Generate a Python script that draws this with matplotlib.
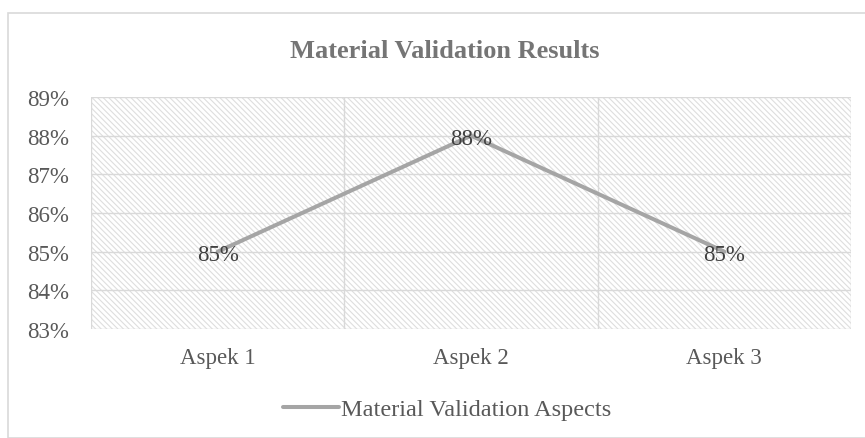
import matplotlib
matplotlib.use("Agg")
import matplotlib.pyplot as plt
from matplotlib.patches import Rectangle
from matplotlib.ticker import FuncFormatter

# dados do gráfico
aspectos = ["Aspek 1", "Aspek 2", "Aspek 3"]
valores = [85, 88, 85]
serie_nome = "Material Validation Aspects"
titulo = "Material Validation Results"

plt.rcParams['font.family'] = ['Liberation Serif', 'DejaVu Serif']
plt.rcParams['hatch.color'] = '#dedede'
plt.rcParams['hatch.linewidth'] = 0.8

W, H = 865, 439
fig = plt.figure(figsize=(W / 100, H / 100), dpi=100)

# borda externa do gráfico
fig.patches.append(Rectangle((8 / W, 0), 1, (H - 14) / H, transform=fig.transFigure,
                             fill=False, edgecolor='#d9d9d9', linewidth=1.2))

ax = fig.add_axes([91 / W, (H - 330) / H, 760 / W, 232 / H])
ax.set_facecolor('white')

# fundo hachurado
ax.add_patch(Rectangle((0, 0), 1, 1, transform=ax.transAxes, facecolor='white',
                       edgecolor='#dedede', hatch='\\\\\\\\\\\\', linewidth=0, zorder=0))

x = range(len(aspectos))
ax.set_xlim(-0.5, len(aspectos) - 0.5)
ax.set_ylim(83, 89)
ax.set_yticks(range(83, 90))
ax.yaxis.set_major_formatter(FuncFormatter(lambda v, p: f"{v:.0f}%"))
ax.set_xticks(list(x))
ax.set_xticklabels(aspectos)

# linhas de grade (verticais nas divisões de categoria)
for yv in range(83, 90):
    ax.axhline(yv, color='#d9d9d9', linewidth=1, zorder=1)
for xv in [k - 0.5 for k in range(len(aspectos) + 1)]:
    ax.axvline(xv, color='#d9d9d9', linewidth=1, zorder=1)

ax.plot(list(x), valores, color='#a5a5a5', linewidth=2.9, solid_capstyle='round',
        label=serie_nome, zorder=3)

# rótulos de dados centrados no ponto (um pouco abaixo)
for xi, v in zip(x, valores):
    ax.annotate(f"{v}%", (xi, v), xytext=(0, -2), textcoords='offset points',
                ha='center', va='center', fontsize=16.5, color='#404040', zorder=4)

for s in ax.spines.values():
    s.set_visible(False)
ax.tick_params(axis='both', length=0, labelsize=16.5, labelcolor='#595959')
ax.tick_params(axis='x', pad=13)
ax.tick_params(axis='y', pad=16)

fig.text(445 / W, (H - 52) / H, titulo, ha='center', va='center', fontsize=19,
         fontweight='bold', color='#757575')

leg = fig.legend(loc='center', bbox_to_anchor=(447 / W, (H - 410) / H), frameon=False,
                 fontsize=17.5, handlelength=2.3, handletextpad=0.1, labelcolor='#595959')

fig.savefig("out.png", dpi=100)
